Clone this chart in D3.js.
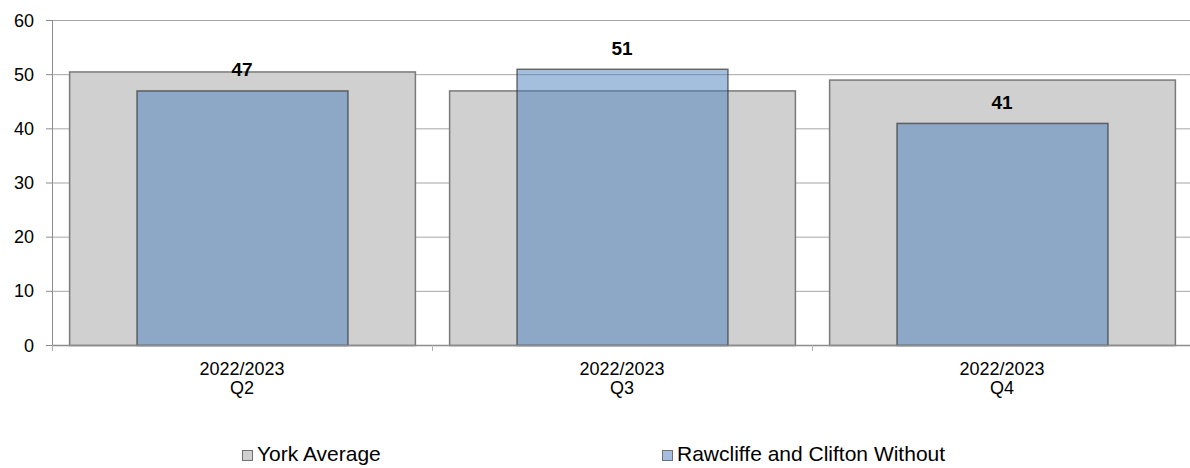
<!DOCTYPE html>
<html>
<head>
<meta charset="utf-8">
<script src="https://cdn.jsdelivr.net/npm/d3@7"></script>
<style>
  body { margin: 0; background: #fff; }
  text { font-family: "Liberation Sans", Arial, sans-serif; fill: #000; }
</style>
</head>
<body>
<div id="chart"></div>
<script>
// Datos
const categories = [["2022/2023", "Q2"], ["2022/2023", "Q3"], ["2022/2023", "Q4"]];
const yorkAverage = [50.5, 47, 49];
const rawcliffe = [47, 51, 41];
const yTicks = [0, 10, 20, 30, 40, 50, 60];
const seriesNames = ["York Average", "Rawcliffe and Clifton Without"];

const width = 1190, height = 468;
const margin = { left: 52, right: -2, top: 20, bottom: 123 };

const svg = d3.select('#chart')
    .append('svg')
    .attr('width', width)
    .attr('height', height);

const x = d3.scaleBand()
    .domain(d3.range(categories.length))
    .range([margin.left, width - margin.right])
    .paddingInner(0.09)
    .paddingOuter(0.045);

const y = d3.scaleLinear()
    .domain([0, 60])
    .range([height - margin.bottom, margin.top]);

// Lineas de cuadricula
svg.selectAll('.grid')
    .data(yTicks.slice(1))
    .enter().append('line')
    .attr('x1', margin.left)
    .attr('x2', width)
    .attr('y1', d => y(d) + 0.5)
    .attr('y2', d => y(d) + 0.5)
    .style('stroke', '#a6a6a6')
    .style('stroke-width', 1);

// Barras grises (media de York)
svg.selectAll('.york')
    .data(yorkAverage)
    .enter().append('rect')
    .attr('x', (d, i) => x(i) + 0.5)
    .attr('y', d => y(d) + 0.5)
    .attr('width', x.bandwidth())
    .attr('height', d => y(0) - y(d))
    .style('fill', '#d0d0d0')
    .style('stroke', '#7a7a7a')
    .style('stroke-width', 1.5);

// Barras azules semitransparentes
const innerW = x.bandwidth() * 0.61;
svg.selectAll('.ward')
    .data(rawcliffe)
    .enter().append('rect')
    .attr('x', (d, i) => x(i) + (x.bandwidth() - innerW) / 2 + 0.5)
    .attr('y', d => y(d) + 0.5)
    .attr('width', innerW)
    .attr('height', d => y(0) - y(d))
    .style('fill', '#4a7ebb')
    .style('fill-opacity', 0.5)
    .style('stroke', '#2e2e2e')
    .style('stroke-opacity', 0.65)
    .style('stroke-width', 1.5);

// Etiquetas de valor
svg.selectAll('.label')
    .data(rawcliffe)
    .enter().append('text')
    .attr('x', (d, i) => x(i) + x.bandwidth() / 2)
    .attr('y', d => y(d) - 14)
    .attr('text-anchor', 'middle')
    .style('font-size', '19px')
    .style('font-weight', 'bold')
    .text(d => d);

// Eje Y
svg.append('line')
    .attr('x1', margin.left + 0.5).attr('x2', margin.left + 0.5)
    .attr('y1', y(60)).attr('y2', y(0))
    .style('stroke', '#8c8c8c');

svg.selectAll('.ytick')
    .data(yTicks)
    .enter().append('line')
    .attr('x1', margin.left - 6).attr('x2', margin.left)
    .attr('y1', d => y(d) + 0.5).attr('y2', d => y(d) + 0.5)
    .style('stroke', '#8c8c8c');

svg.selectAll('.ylabel')
    .data(yTicks)
    .enter().append('text')
    .attr('x', 34)
    .attr('y', d => y(d) + 6.5)
    .attr('text-anchor', 'end')
    .style('font-size', '18px')
    .text(d => d);

// Eje X
svg.append('line')
    .attr('x1', margin.left).attr('x2', width)
    .attr('y1', y(0) + 0.5).attr('y2', y(0) + 0.5)
    .style('stroke', '#8c8c8c')
    .style('stroke-width', 1.5);

svg.selectAll('.xtick')
    .data(d3.range(categories.length + 1))
    .enter().append('line')
    .attr('x1', i => margin.left + i * x.step() + 0.5)
    .attr('x2', i => margin.left + i * x.step() + 0.5)
    .attr('y1', y(0)).attr('y2', y(0) + 6)
    .style('stroke', '#b0b0b0');

const xl = svg.selectAll('.xlabel')
    .data(categories)
    .enter().append('text')
    .attr('text-anchor', 'middle')
    .style('font-size', '18px');
xl.append('tspan')
    .attr('x', (d, i) => x(i) + x.bandwidth() / 2)
    .attr('y', 375)
    .text(d => d[0]);
xl.append('tspan')
    .attr('x', (d, i) => x(i) + x.bandwidth() / 2)
    .attr('y', 394)
    .text(d => d[1]);

// Leyenda
const legendX = [242, 662];
const legend = svg.selectAll('.legend')
    .data(seriesNames)
    .enter().append('g')
    .attr('transform', (d, i) => `translate(${legendX[i]},450)`);
legend.append('rect')
    .attr('x', 0.5).attr('y', 0.5)
    .attr('width', 10).attr('height', 10)
    .style('fill', (d, i) => i === 0 ? '#d0d0d0' : '#a5bde0')
    .style('stroke', '#707070');
legend.append('text')
    .attr('x', 15)
    .attr('y', 11)
    .style('font-size', '21px')
    .text(d => d);
</script>
</body>
</html>
